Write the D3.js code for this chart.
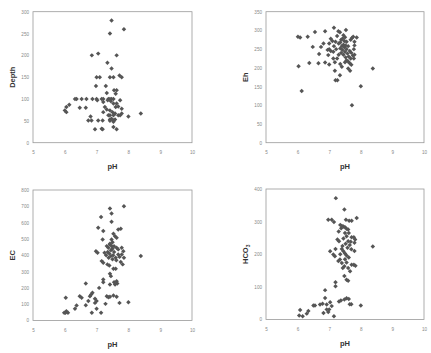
<!DOCTYPE html>
<meta charset="utf-8">
<style>
    body { margin: 0; background: #fff; }
    .tick text { font-family: "Liberation Sans", Arial, sans-serif; font-size: 4.6px; fill: #888; }
    .title { font-family: "Liberation Sans", Arial, sans-serif; font-size: 7.5px; font-weight: bold; fill: #333; }
</style>
<svg width="431" height="353"></svg>
<script src="https://d3js.org/d3.v7.min.js"></script>
<script>

    // [pH, value]
    var depthData = [
        [7.47, 280], [7.42, 250], [7.86, 260], [6.85, 200], [7.05, 204], [7.63, 200],
        [7.34, 183], [7.47, 170], [7.0, 150], [7.1, 150], [7.42, 150], [7.53, 150],
        [7.72, 154], [7.79, 150], [6.98, 130], [7.29, 130], [7.55, 120], [7.63, 120],
        [7.6, 112], [7.32, 114], [6.32, 100], [6.37, 100], [6.53, 100], [6.68, 100],
        [6.87, 100], [7.0, 100], [7.16, 100], [7.21, 100], [7.37, 100], [7.42, 100],
        [7.47, 100], [7.53, 100], [7.74, 97], [7.02, 97], [6.05, 82], [6.14, 87],
        [6.0, 74], [6.05, 70], [6.47, 80], [6.66, 80], [7.21, 93], [7.53, 90],
        [7.63, 90], [7.26, 82], [7.32, 76], [7.42, 74], [7.5, 70], [7.58, 67],
        [7.6, 82], [7.68, 83], [7.79, 78], [7.21, 70], [7.37, 63], [7.42, 63],
        [7.53, 63], [7.68, 63], [7.74, 63], [7.79, 67], [8.0, 60], [8.39, 67],
        [6.81, 60], [6.74, 51], [6.84, 51], [7.05, 51], [7.19, 51], [7.42, 53],
        [7.53, 51], [7.58, 53], [7.47, 55], [6.95, 31], [7.16, 32], [7.19, 31],
        [7.53, 36], [7.63, 31], [7.42, 50], [7.53, 48], [7.35, 97], [7.45, 95]
    ];

    var ehData = [
        [7.15, 307], [7.53, 301], [6.55, 296], [6.87, 298], [7.29, 298], [7.34, 295],
        [6.01, 283], [6.08, 281], [6.32, 283], [7.76, 283], [7.87, 281], [6.82, 265],
        [6.74, 256], [6.48, 256], [7.0, 250], [7.05, 245], [6.95, 248], [7.13, 243],
        [6.68, 237], [6.97, 234], [7.13, 225], [6.37, 213], [6.66, 212], [6.87, 214],
        [7.0, 209], [6.03, 204], [7.18, 192], [7.4, 203], [7.6, 198], [7.66, 192],
        [8.38, 198], [7.34, 180], [7.2, 167], [7.26, 167], [6.13, 138], [8.0, 151],
        [7.72, 100], [7.45, 287], [7.5, 282], [7.42, 278], [7.38, 275], [7.48, 272],
        [7.55, 270], [7.35, 268], [7.3, 265], [7.45, 262], [7.52, 260], [7.4, 258],
        [7.6, 258], [7.48, 255], [7.35, 252], [7.55, 250], [7.42, 248], [7.65, 245],
        [7.5, 243], [7.38, 240], [7.7, 240], [7.58, 238], [7.45, 235], [7.75, 233],
        [7.62, 230], [7.52, 228], [7.68, 225], [7.55, 220], [7.6, 217], [7.5, 215],
        [7.65, 212], [7.7, 208], [7.8, 270], [7.8, 260], [7.78, 250], [7.8, 235],
        [7.78, 225], [7.72, 280], [7.68, 275], [7.25, 285], [7.2, 270], [7.1, 272],
        [7.05, 278], [7.0, 265], [7.15, 258], [7.22, 250], [7.3, 235], [7.25, 225],
        [7.18, 215], [7.35, 210]
    ];

    var ecData = [
        [7.86, 701], [7.42, 687], [7.47, 656], [7.14, 634], [7.47, 605], [7.05, 568],
        [7.21, 548], [7.68, 558], [7.76, 562], [7.53, 532], [7.58, 517], [7.47, 497],
        [7.19, 497], [7.63, 507], [6.98, 425], [7.03, 415], [7.32, 456], [7.37, 446],
        [7.42, 466], [7.63, 446], [7.68, 436], [7.79, 446], [7.84, 425], [7.79, 405],
        [7.86, 384], [7.16, 364], [7.21, 354], [7.34, 344], [7.4, 337], [7.76, 358],
        [7.82, 344], [8.39, 395], [7.53, 317], [7.6, 317], [7.42, 286], [7.45, 272],
        [7.21, 252], [7.21, 235], [7.55, 235], [7.63, 241], [7.58, 221], [7.65, 227],
        [6.66, 227], [7.08, 200], [7.42, 221], [6.03, 139], [6.47, 149], [6.53, 139],
        [6.79, 149], [6.87, 170], [6.83, 160], [6.74, 119], [6.95, 133], [7.0, 119],
        [6.95, 108], [6.66, 94], [6.37, 92], [6.32, 72], [6.05, 57], [6.02, 47],
        [6.1, 47], [5.98, 47], [6.85, 47], [7.0, 72], [7.14, 47], [7.32, 149],
        [7.37, 143], [7.42, 145], [7.53, 153], [7.63, 145], [7.28, 102], [7.72, 108],
        [8.0, 112], [7.35, 420], [7.4, 410], [7.45, 430], [7.5, 440], [7.55, 420],
        [7.3, 400], [7.45, 395], [7.52, 400], [7.6, 385], [7.38, 385], [7.5, 375],
        [7.62, 370], [7.42, 470], [7.5, 480], [7.55, 455], [7.25, 415], [7.68, 405],
        [7.72, 390], [7.48, 455]
    ];

    var hco3Data = [
        [7.21, 372], [7.48, 337], [6.97, 306], [7.08, 306], [7.15, 299], [7.87, 311],
        [7.53, 306], [7.63, 303], [7.71, 303], [7.35, 290], [7.4, 287], [7.45, 285],
        [7.5, 283], [7.38, 280], [7.55, 278], [7.6, 276], [7.26, 245], [7.31, 240],
        [7.71, 252], [7.78, 252], [7.82, 245], [7.8, 235], [8.38, 224], [7.03, 209],
        [7.13, 199], [7.18, 194], [7.2, 216], [7.4, 216], [7.45, 209], [7.5, 202],
        [7.55, 196], [7.34, 184], [7.29, 179], [7.4, 173], [7.48, 163], [7.43, 158],
        [7.71, 168], [7.78, 168], [7.83, 165], [7.6, 158], [7.66, 148], [7.48, 133],
        [7.55, 122], [7.6, 119], [7.2, 114], [7.2, 102], [6.87, 90], [6.87, 66],
        [7.03, 53], [6.92, 46], [7.31, 55], [7.37, 58], [7.48, 61], [7.55, 65],
        [7.62, 63], [7.7, 47], [7.65, 47], [8.0, 43], [6.5, 43], [6.55, 43],
        [6.71, 46], [6.79, 48], [6.34, 26], [6.29, 18], [6.05, 12], [6.16, 10],
        [6.08, 29], [6.92, 31], [6.97, 23], [6.82, 20], [7.08, 41], [7.0, 31],
        [7.15, 10], [7.5, 265], [7.55, 255], [7.45, 248], [7.6, 240], [7.52, 232],
        [7.65, 228], [7.58, 220], [7.42, 225], [7.68, 238], [7.35, 200], [7.5, 185],
        [7.62, 190], [7.55, 175], [7.3, 270], [7.62, 265], [7.7, 215], [7.8, 210]
    ];

    var xTicks = [5, 6, 7, 8, 9, 10];

    var panels = [
        { data: depthData, label: "Depth", yMax: 300, yStep: 50, x0: 33, x1: 192, y0: 11.7, y1: 142.7, lx: 12 },
        { data: ehData, label: "Eh", yMax: 350, yStep: 50, x0: 266, x1: 424, y0: 11.7, y1: 142.7, lx: 245 },
        { data: ecData, label: "EC", yMax: 800, yStep: 100, x0: 33, x1: 192, y0: 190, y1: 320.5, lx: 12 },
        { data: hco3Data, label: "HCO", sub: "3", yMax: 400, yStep: 100, x0: 266, x1: 424, y0: 189, y1: 319.5, lx: 245 }
    ];

    var svg = d3.select("svg");
    var marker = d3.symbol().type(d3.symbolSquare).size(10);

    panels.forEach(function (p) {
        var x = d3.scaleLinear().domain([5, 10]).range([p.x0, p.x1]);
        var y = d3.scaleLinear().domain([0, p.yMax]).range([p.y1, p.y0]);
        var g = svg.append("g");

        g.append("rect")
            .attr("x", p.x0).attr("y", p.y0)
            .attr("width", p.x1 - p.x0).attr("height", p.y1 - p.y0)
            .attr("fill", "none").attr("stroke", "#999").attr("stroke-width", 0.8);

        var xa = g.append("g")
            .attr("transform", "translate(0," + p.y1 + ")")
            .call(d3.axisBottom(x).tickValues(xTicks).tickFormat(d3.format("d")).tickSize(0).tickPadding(8));
        var ya = g.append("g")
            .attr("transform", "translate(" + p.x0 + ",0)")
            .call(d3.axisLeft(y).tickValues(d3.range(0, p.yMax + 1, p.yStep)).tickSize(0).tickPadding(4));
        [xa, ya].forEach(function (a) {
            a.select(".domain").remove();
        });

        g.selectAll("path.pt")
            .data(p.data)
            .enter().append("path")
            .attr("class", "pt")
            .attr("d", marker)
            .attr("fill", "#555")
            .attr("transform", function (d) {
                return "translate(" + x(d[0]) + "," + y(d[1]) + ") rotate(45)";
            });

        g.append("text")
            .attr("class", "title")
            .attr("x", (p.x0 + p.x1) / 2)
            .attr("y", p.y1 + 26)
            .attr("text-anchor", "middle")
            .text("pH");

        var t = g.append("text")
            .attr("class", "title")
            .attr("text-anchor", "middle")
            .attr("transform", "translate(" + (p.lx + 3) + "," + ((p.y0 + p.y1) / 2) + ") rotate(-90)")
            .text(p.label);
        if (p.sub) {
            t.append("tspan").attr("font-size", "5px").attr("dy", 2).text(p.sub);
        }
    });

</script>
